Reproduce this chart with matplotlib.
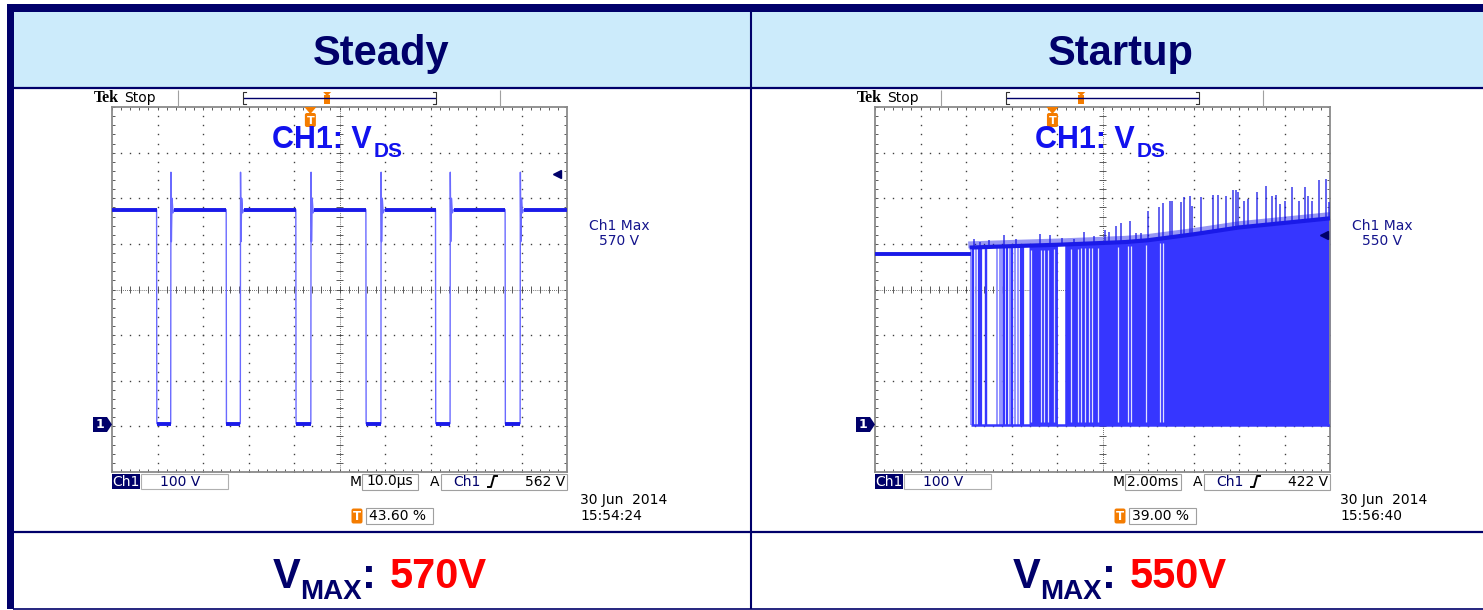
import numpy as np
import matplotlib.pyplot as plt
from matplotlib.patches import Rectangle, Polygon, FancyBboxPatch
from matplotlib.collections import LineCollection

# ---- data read off the two scope shots ----
# steady: 10 us/div, 100 V/div, ground 3 div below centre
steady_fall_us = [9.8, 25.1, 40.4, 55.8, 71.1, 86.4]
steady_rise_us = [12.9, 28.2, 43.7, 59.1, 74.3, 89.7]
steady_high_v = 475
steady_low_v = 6
steady_ring_dt = [0.05, 0.15, 0.3, 0.5, 0.8]
steady_ring_v = [557, 405, 500, 468, 475]

# startup: 2 ms/div, 100 V/div
startup_base_v = 377
startup_start_ms = 4.2
startup_low_v = 2
startup_top_ms = [4.2, 4.25, 6.0, 8.0, 10.0, 11.0, 12.0, 14.0, 16.0, 18.0, 20.0]
startup_top_v = [377, 392, 395, 398, 402, 404, 408, 421, 436, 446, 456]
startup_pulse_dark_ms = [4.31, 4.59, 4.67, 4.86, 4.90, 5.66, 5.81, 6.04, 6.40, 6.52]
startup_pulse_light_ms = [4.23, 4.46, 5.37, 5.49, 5.59, 5.93, 6.15, 6.28]
startup_dense_ms = [(6.77, 8.02), (8.34, 20.0)]
startup_gap_ms = [6.87, 7.28, 7.43, 7.61, 7.87, 8.61, 8.91, 9.05, 9.23, 9.39, 9.52,
                  9.79, 10.67, 11.11, 11.26, 11.92, 12.51, 12.66]
startup_spike_ms = [4.33, 4.6, 5.0, 5.65, 6.2, 7.24, 7.68, 8.2, 8.74, 9.18, 9.62, 10.1, 10.3,
                    10.60, 10.82, 11.23, 11.48, 11.70, 12.00, 12.47, 12.66, 12.95, 13.06,
                    13.47, 13.59, 13.83, 13.94, 14.31, 14.87, 15.09, 15.41, 15.75, 15.89,
                    15.97, 16.24, 16.41, 16.78, 17.17, 17.47, 17.62, 17.81, 18.00, 18.35,
                    18.62, 18.88, 19.03, 19.21, 19.50, 19.82, 19.94]
startup_spike_v = [411, 405, 408, 419, 410, 422, 420, 412, 411, 425, 418, 430, 425,
                   440, 445, 451, 423, 423, 471, 480, 489, 493, 493,
                   491, 502, 504, 484, 502, 507, 507, 506, 519, 517,
                   513, 495, 498, 513, 526, 506, 507, 488, 495, 524,
                   495, 524, 504, 495, 541, 542, 491]

titles = ['Steady', 'Startup']
vmax_labels = ['570V', '550V']
max_labels = ['570 V', '550 V']
timebase = ['10.0\u00b5s', '2.00ms']
trig_level = ['562 V', '422 V']
trig_pos = [43.60, 39.00]
dates = [('30 Jun  2014', '15:54:24'), ('30 Jun  2014', '15:56:40')]

W, H = 1483, 610
NAVY = '#00006A'
LIGHT = '#CCEBFB'
TRACE = '#1A1AE8'
EDGE = '#6A6AFF'
FILL = '#3636FF'
ORANGE = '#F47C00'
DOT = '#404040'
UI = 'DejaVu Sans'

fig = plt.figure(figsize=(W / 100, H / 100), dpi=100)
bg = fig.add_axes([0, 0, 1, 1])
bg.set_xlim(0, W)
bg.set_ylim(H, 0)
bg.axis('off')

# table
bg.add_patch(Rectangle((13, 11), W - 13, 76, fc=LIGHT, ec='none'))
bg.add_patch(Rectangle((7, 4), W - 7, 7.5, fc=NAVY, ec='none'))
bg.add_patch(Rectangle((7, 4), 6.5, 605, fc=NAVY, ec='none'))
bg.hlines([87.5, 532], 13, W, color=NAVY, lw=1.6)
bg.hlines(608.5, 13, W, color=NAVY, lw=1.2)
bg.vlines(750.5, 11, 609, color=NAVY, lw=1.5)

for cx, title in zip([381, 1121], titles):
    bg.text(cx, 65, title, ha='center', va='baseline', fontsize=30, fontweight='bold',
            color=NAVY, family='Liberation Sans')

for ox, val in zip([0, 740], vmax_labels):
    kw = dict(va='baseline', fontweight='bold', family='Liberation Sans')
    bg.text(273 + ox, 588, 'V', fontsize=30, color=NAVY, **kw)
    bg.text(300 + ox, 599, 'MAX', fontsize=20, color=NAVY, **kw)
    bg.text(362 + ox, 588, ':', fontsize=30, color=NAVY, **kw)
    bg.text(390 + ox, 588, val, fontsize=30, color='#FF0000', **kw)

# scope screens
GL, GT, GW, GH = 112, 107, 455, 365
offsets = [0, 763]
scopes = []
for ox in offsets:
    ax = fig.add_axes([(GL + ox) / W, 1 - (GT + GH) / H, GW / W, GH / H])
    ax.set_facecolor('white')
    ax.set_xticks([])
    ax.set_yticks([])
    for s in ax.spines.values():
        s.set_color('#8A8A8A')
        s.set_linewidth(1.3)
    tr = ax.transAxes
    yk = np.arange(41) / 40
    xk = np.arange(51) / 50
    dk = dict(transform=tr, ls='none', marker='s', ms=1.0, color=DOT, mec='none', zorder=1)
    for i in range(1, 10):
        if i != 5:
            ax.plot(np.full_like(yk, i / 10), yk, **dk)
    for j in range(1, 8):
        if j != 4:
            ax.plot(xk, np.full_like(xk, j / 8), **dk)
    ax.plot([0.5, 0.5], [0, 1], transform=tr, color=DOT, lw=0.6, ls=(0, (1, 1.5)), zorder=1)
    ax.plot([0, 1], [0.5, 0.5], transform=tr, color=DOT, lw=0.6, ls=(0, (1, 1.5)), zorder=1)
    segs = []
    dx, dy = 0.007, 0.009
    for x in xk:
        segs += [[(x, 0.5 - dy), (x, 0.5 + dy)], [(x, 0), (x, dy)], [(x, 1 - dy), (x, 1)]]
    for y in yk:
        segs += [[(0.5 - dx, y), (0.5 + dx, y)], [(0, y), (dx, y)], [(1 - dx, y), (1, y)]]
    ax.add_collection(LineCollection(segs, colors=DOT, lw=0.6, transform=tr, zorder=1))
    ax.set_ylim(-100, 700)
    scopes.append(ax)

# steady waveform
ax = scopes[0]
ax.set_xlim(0, 100)
t, v = [0.0], [steady_high_v]
for f, r in zip(steady_fall_us, steady_rise_us):
    t += [f, f + 0.05, r]
    v += [steady_high_v, steady_low_v, steady_low_v]
    t += [r + d for d in steady_ring_dt]
    v += steady_ring_v
t.append(100)
v.append(steady_high_v)
ax.plot(t, v, color=EDGE, lw=1.0, zorder=3)
starts = [0] + [r + steady_ring_dt[-1] for r in steady_rise_us]
ends = steady_fall_us + [100]
ax.hlines([steady_high_v] * len(starts), starts, ends, color=TRACE, lw=2.8, zorder=4)
ax.hlines([steady_low_v] * len(steady_fall_us), steady_fall_us, steady_rise_us,
          color=TRACE, lw=2.8, zorder=4)
ax.plot([97.8], [553], marker='<', ms=6, color=NAVY, zorder=5)

# startup waveform
ax = scopes[1]
ax.set_xlim(0, 20)
top_t = np.array(startup_top_ms)
top_v = np.array(startup_top_v)
ax.hlines(startup_base_v, 0, startup_start_ms, color=TRACE, lw=2.8, zorder=4)
for a, b in startup_dense_ms:
    m = (top_t > a) & (top_t < b)
    tt = np.concatenate([[a], top_t[m], [b]])
    ax.fill_between(tt, startup_low_v, np.interp(tt, top_t, top_v), color=FILL, lw=0, zorder=2)
ax.vlines(startup_pulse_light_ms, startup_low_v, np.interp(startup_pulse_light_ms, top_t, top_v),
          color='#8C8CFF', lw=1.3, zorder=3)
ax.vlines(startup_pulse_dark_ms, startup_low_v, np.interp(startup_pulse_dark_ms, top_t, top_v),
          color=FILL, lw=1.6, zorder=3)
ax.vlines(startup_gap_ms, startup_low_v + 8, np.interp(startup_gap_ms, top_t, top_v) - 10,
          color='white', lw=0.9, alpha=0.85, zorder=3)
ax.vlines(startup_spike_ms, np.interp(startup_spike_ms, top_t, top_v), startup_spike_v,
          color=TRACE, lw=1.2, alpha=0.8, zorder=3)
ax.hlines(startup_low_v, startup_start_ms, 20, color=FILL, lw=1.8, zorder=3)
# hairy top edge of the switching band
ax.plot(top_t[1:], top_v[1:] + 6, color=TRACE, lw=5, alpha=0.45, zorder=4)
ax.plot(top_t[1:], top_v[1:], color=TRACE, lw=3.0, zorder=4)
ax.plot([19.73], [419], marker='<', ms=6, color=NAVY, zorder=5)

# overlay for scope annotations
fg = fig.add_axes([0, 0, 1, 1])
fg.set_xlim(0, W)
fg.set_ylim(H, 0)
fg.axis('off')
fg.patch.set_alpha(0)


def t_icon(x, y, w=11, h=14, fs=8):
    fg.add_patch(FancyBboxPatch((x - w / 2, y - h / 2), w, h,
                                boxstyle='round,pad=0,rounding_size=2', fc=ORANGE, ec='none'))
    fg.text(x, y + 0.5, 'T', color='white', fontsize=fs, fontweight='bold',
            ha='center', va='center', family=UI)


for k, ox in enumerate(offsets):
    # top bar
    fg.text(94 + ox, 98, 'Tek', fontsize=11.5, fontweight='bold', family='Liberation Serif',
            va='center', ha='left')
    fg.text(124 + ox, 98, 'Stop', fontsize=10, family=UI, va='center', ha='left')
    fg.vlines([178 + ox, 500 + ox], 90, 106, color='#A0A0A0', lw=0.8)
    fg.hlines(98, 243 + ox, 436 + ox, color=NAVY, lw=1.0)
    for bx, d in [(243 + ox, 3), (436 + ox, -3)]:
        fg.plot([bx + d, bx, bx, bx + d], [92, 92, 104, 104], color='#303030', lw=0.8)
    mx = 243 + ox + trig_pos[k] / 100 * 193
    fg.add_patch(Polygon([(mx - 4, 92), (mx + 4, 92), (mx, 96)], fc=ORANGE, ec='none'))
    fg.add_patch(Rectangle((mx - 3, 95), 6, 9, fc=ORANGE, ec='none'))
    # trigger marker on graticule
    tx = GL + ox + trig_pos[k] / 100 * GW
    fg.add_patch(Polygon([(tx - 6, 107), (tx + 6, 107), (tx, 114)], fc=ORANGE, ec='none'))
    t_icon(tx, 120, w=11, h=14, fs=8)
    # channel label
    fg.text(272 + ox, 148, 'CH1: V', fontsize=22, fontweight='bold', color='#1212EE',
            family='Liberation Sans', va='baseline')
    fg.text(374 + ox, 157, 'DS', fontsize=15, fontweight='bold', color='#1212EE',
            family='Liberation Sans', va='baseline')
    # ground marker
    fg.add_patch(Polygon([(93 + ox, 417), (107 + ox, 417), (112 + ox, 424.5),
                          (107 + ox, 432), (93 + ox, 432)], fc=NAVY, ec='none'))
    fg.text(100 + ox, 424.5, '1', color='white', fontsize=9, fontweight='bold',
            ha='center', va='center', family=UI)
    # max readout
    fg.text(619 + ox, 226, 'Ch1 Max', fontsize=10, color='#14148C', ha='center', va='center',
            family=UI)
    fg.text(619 + ox, 241, max_labels[k], fontsize=10, color='#14148C', ha='center',
            va='center', family=UI)
    # status bar
    fg.add_patch(Rectangle((112 + ox, 474), 28, 15, fc=NAVY, ec='none'))
    fg.text(126 + ox, 481.5, 'Ch1', color='white', fontsize=10, ha='center', va='center',
            family=UI)
    fg.add_patch(Rectangle((141 + ox, 474), 87, 15, fc='white', ec='#B0B0B0', lw=0.8))
    fg.text(180 + ox, 481.5, '100 V', color=NAVY, fontsize=10, ha='center', va='center',
            family=UI)
    fg.text(356 + ox, 481.5, 'M', fontsize=10, ha='center', va='center', family=UI)
    fg.add_patch(Rectangle((362 + ox, 473.5), 56, 16, fc='white', ec='#A0A0A0', lw=0.8))
    fg.text(390 + ox, 481.5, timebase[k], fontsize=10, ha='center', va='center', family=UI)
    fg.text(435 + ox, 481.5, 'A', fontsize=10, ha='center', va='center', family=UI)
    fg.add_patch(Rectangle((441 + ox, 473.5), 126, 16, fc='white', ec='#A0A0A0', lw=0.8))
    fg.text(453 + ox, 481.5, 'Ch1', color=NAVY, fontsize=10, ha='left', va='center', family=UI)
    fg.plot(np.array([488, 491, 494, 497]) + ox, [487, 487, 476, 476], color='black', lw=1.4)
    fg.text(565 + ox, 481.5, trig_level[k], fontsize=10, ha='right', va='center', family=UI)
    # trigger position + date
    t_icon(357 + ox, 516, w=11, h=15, fs=8.5)
    fg.add_patch(Rectangle((366 + ox, 508), 67, 16, fc='white', ec='#A0A0A0', lw=0.8))
    fg.text(369 + ox, 516, f'{trig_pos[k]:.2f} %', fontsize=10, ha='left', va='center',
            family=UI)
    fg.text(580 + ox - (3 if k else 0), 500, dates[k][0], fontsize=10, ha='left',
            va='center', family=UI)
    fg.text(580 + ox - (3 if k else 0), 516, dates[k][1], fontsize=10, ha='left',
            va='center', family=UI)

fig.savefig('out.png', dpi=100)
